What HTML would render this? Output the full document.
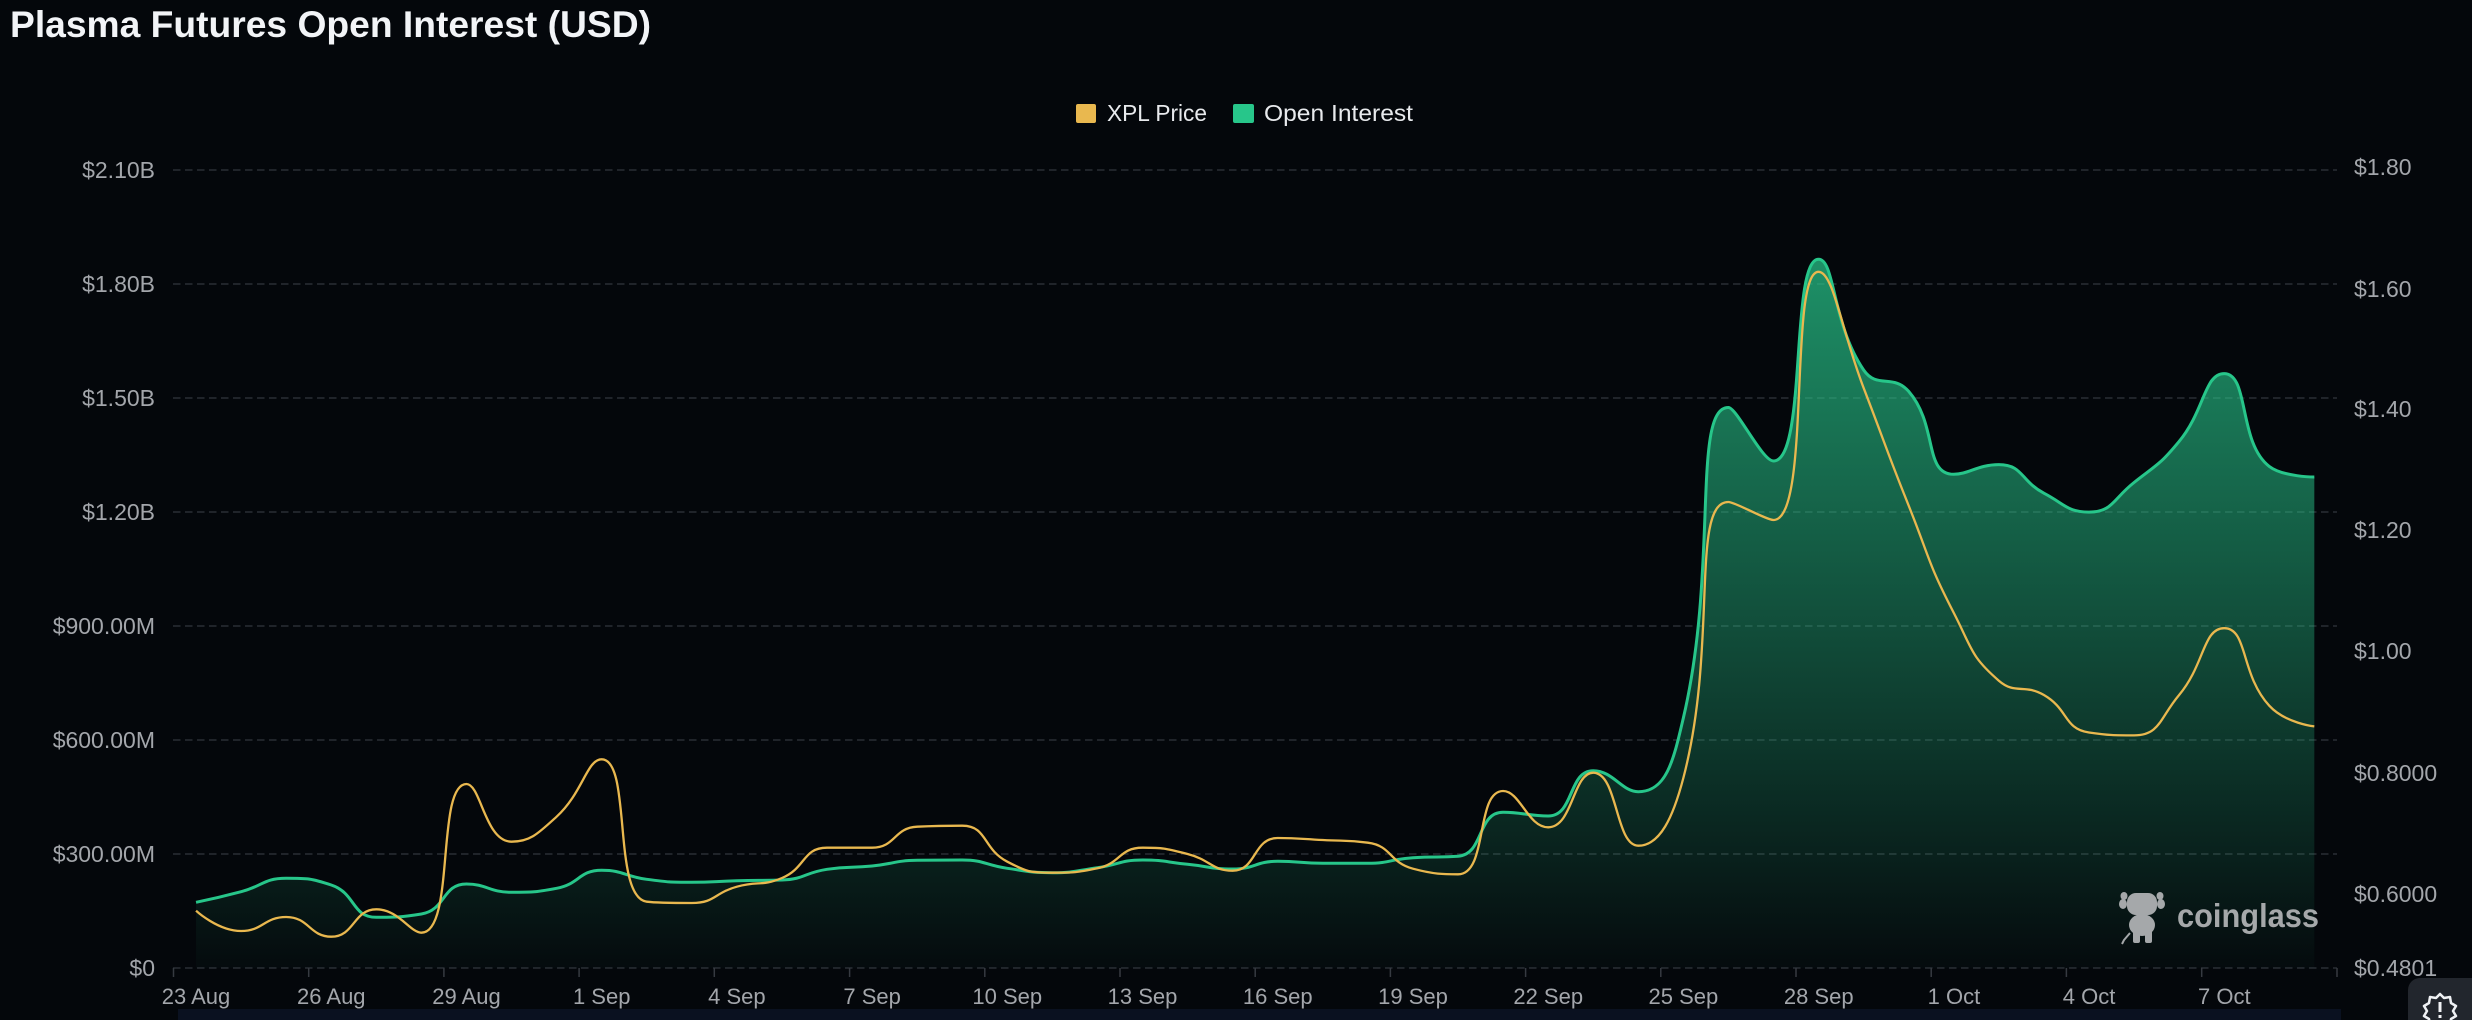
<!DOCTYPE html>
<html>
<head>
<meta charset="utf-8">
<style>
  html,body{margin:0;padding:0;background:#04070b;}
  body{width:2472px;height:1020px;overflow:hidden;}
  svg{display:block;}
  text{font-family:"Liberation Sans",Arial,sans-serif;}
</style>
</head>
<body>
<svg id="chart" width="2472" height="1020" viewBox="0 0 2472 1020" xmlns="http://www.w3.org/2000/svg">
  <defs>
    <linearGradient id="oiFill" gradientUnits="userSpaceOnUse" x1="0" y1="255" x2="0" y2="968">
      <stop offset="0" stop-color="rgb(40,200,140)" stop-opacity="0.72"/>
      <stop offset="0.5" stop-color="rgb(40,200,140)" stop-opacity="0.38"/>
      <stop offset="1" stop-color="rgb(40,200,140)" stop-opacity="0.02"/>
    </linearGradient>
  </defs>
  <rect x="0" y="0" width="2472" height="1020" fill="#04070b"/>

  <!-- Title -->
  <text x="10" y="37" font-size="37" font-weight="bold" fill="#f2f4f7" textLength="641" lengthAdjust="spacingAndGlyphs">Plasma Futures Open Interest (USD)</text>

  <!-- Legend -->
  <rect x="1076" y="104" width="20" height="19" rx="2" fill="#e9b84f"/>
  <text x="1107" y="121" font-size="23" fill="#e8eaed" textLength="100" lengthAdjust="spacingAndGlyphs">XPL Price</text>
  <rect x="1233" y="104" width="21" height="19" rx="2" fill="#27c68a"/>
  <text x="1264" y="121" font-size="23" fill="#e8eaed" textLength="149" lengthAdjust="spacingAndGlyphs">Open Interest</text>

  <!-- Grid lines -->
  <g stroke="#2a2e35" stroke-width="1.5" stroke-dasharray="7.5 4.5">
    <line x1="173" y1="170" x2="2337" y2="170"/>
    <line x1="173" y1="284" x2="2337" y2="284"/>
    <line x1="173" y1="398" x2="2337" y2="398"/>
    <line x1="173" y1="512" x2="2337" y2="512"/>
    <line x1="173" y1="626" x2="2337" y2="626"/>
    <line x1="173" y1="740" x2="2337" y2="740"/>
    <line x1="173" y1="854" x2="2337" y2="854"/>
    <line x1="173" y1="968" x2="2337" y2="968"/>
  </g>

  <!-- x ticks -->
  <path stroke="#363a41" stroke-width="1.5" fill="none" d="M173.5,968V977M308.7,968V977M443.9,968V977M579.1,968V977M714.3,968V977M849.6,968V977M984.8,968V977M1120,968V977M1255.2,968V977M1390.4,968V977M1525.6,968V977M1660.8,968V977M1796,968V977M1931.2,968V977M2066.4,968V977M2201.7,968V977M2337,968V977"/>

  <!-- Left axis labels -->
  <g font-size="23" fill="#a3a6ab" text-anchor="end">
    <text x="155" y="178">$2.10B</text>
    <text x="155" y="292">$1.80B</text>
    <text x="155" y="406">$1.50B</text>
    <text x="155" y="520">$1.20B</text>
    <text x="155" y="634">$900.00M</text>
    <text x="155" y="748">$600.00M</text>
    <text x="155" y="862">$300.00M</text>
    <text x="155" y="976">$0</text>
  </g>

  <!-- Right axis labels -->
  <g font-size="23" fill="#a3a6ab">
    <text x="2354" y="175">$1.80</text>
    <text x="2354" y="297">$1.60</text>
    <text x="2354" y="417">$1.40</text>
    <text x="2354" y="538">$1.20</text>
    <text x="2354" y="659">$1.00</text>
    <text x="2354" y="781">$0.8000</text>
    <text x="2354" y="902">$0.6000</text>
    <text x="2354" y="976">$0.4801</text>
  </g>

  <!-- X axis labels -->
  <g font-size="22" fill="#a3a6ab" text-anchor="middle">
    <text x="196" y="1004">23 Aug</text>
    <text x="331.3" y="1004">26 Aug</text>
    <text x="466.5" y="1004">29 Aug</text>
    <text x="601.7" y="1004">1 Sep</text>
    <text x="736.9" y="1004">4 Sep</text>
    <text x="872.1" y="1004">7 Sep</text>
    <text x="1007.3" y="1004">10 Sep</text>
    <text x="1142.5" y="1004">13 Sep</text>
    <text x="1277.8" y="1004">16 Sep</text>
    <text x="1413" y="1004">19 Sep</text>
    <text x="1548.2" y="1004">22 Sep</text>
    <text x="1683.4" y="1004">25 Sep</text>
    <text x="1818.7" y="1004">28 Sep</text>
    <text x="1953.9" y="1004">1 Oct</text>
    <text x="2089.1" y="1004">4 Oct</text>
    <text x="2224.3" y="1004">7 Oct</text>
  </g>

  <!-- Series -->
  <path id="oiArea" fill="url(#oiFill)" stroke="none" d=""/>

  <!-- Watermark -->
  <g fill="#a5a8aa">
    <ellipse cx="2124" cy="896" rx="3.5" ry="4"/>
    <ellipse cx="2160" cy="896" rx="3.5" ry="4"/>
    <rect x="2127" y="893" width="30" height="22" rx="9"/>
    <ellipse cx="2123" cy="904" rx="4" ry="5"/>
    <ellipse cx="2161" cy="904" rx="4" ry="5"/>
    <ellipse cx="2142" cy="925" rx="13" ry="11"/>
    <rect x="2133" y="928" width="7" height="15" rx="2"/>
    <rect x="2145" y="928" width="7" height="15" rx="2"/>
    <path d="M2130,933 L2124,940 L2122,944" stroke="#a5a8aa" stroke-width="2" fill="none"/>
    <text x="2177" y="927" font-size="33" font-weight="bold" textLength="142" lengthAdjust="spacingAndGlyphs">coinglass</text>
  </g>
  <path id="oiLine" fill="none" stroke="#27c68a" stroke-width="3" stroke-linejoin="round" d=""/>
  <path id="prLine" fill="none" stroke="#e9b84f" stroke-width="2.3" stroke-linejoin="round" d=""/>

  <!-- bottom band -->
  <rect x="178" y="1009" width="2163" height="11" fill="#0a1120"/>

  <!-- bottom-right icon -->
  <rect x="2408" y="978" width="80" height="60" rx="12" fill="#22262d"/>
  <polygon points="2440,994 2444,998 2450,997 2451,1003 2456,1006 2453,1011 2456,1016 2451,1019 2450,1025 2444,1024 2440,1028 2436,1024 2430,1025 2429,1019 2424,1016 2427,1011 2424,1006 2429,1003 2430,997 2436,998" fill="none" stroke="#f0f2f5" stroke-width="2.5" stroke-linejoin="round"/>
  <rect x="2438.5" y="1002" width="3" height="10" fill="#f0f2f5"/>
  <rect x="2438.5" y="1015" width="3" height="3" fill="#f0f2f5"/>
</svg>
<script>
(function(){
  var L=173.5, W=45.07, BASE=968;
  var oi=[902.3,891.7,878.3,885,917.3,914,884,892.3,888.3,870.3,879.3,882.3,
          880.7,880,869.3,866,860.3,860,868.3,872.7,867.7,860,864.3,869,
          861.3,863.3,863.3,857.7,856.3,812.3,816,770.7,791.7,718,407.5,461,
          259.3,370,391.4,474.3,464.6,493.2,512.1,482.5,441.4,373.6,466.4,477];
  var pr=[910.7,931,917,936.7,909.3,932.7,784,841.7,816.7,759.3,901.7,903,
          886.7,878,847.7,847.7,826.7,825.7,861.7,872.7,868.3,847.7,854,870.7,
          838,840,842.7,868.7,874.3,791,827.3,772.7,845.7,778,502,520,
          271.8,387.9,505.7,612.9,680.7,695,732.5,735.4,695,628.2,705.7,726.4];
  function pts(a){var r=[];for(var i=0;i<a.length;i++){r.push([L+W*(i+0.5),a[i]]);}return r;}
  function f(v){return Math.round(v*100)/100;}
  function sp(P,s){
    var d='M'+f(P[0][0])+','+f(P[0][1]);
    var cpx0=P[0][0],cpy0=P[0][1],prevX=P[0][0],prevY=P[0][1];
    for(var i=1;i<P.length;i++){
      var x=P[i][0],y=P[i][1],cpx1,cpy1,ncx=x,ncy=y;
      if(i===P.length-1){cpx1=x;cpy1=y;}
      else{
        var nx=P[i+1][0],ny=P[i+1][1];
        var vx=nx-prevX,vy=ny-prevY;
        var l0=Math.sqrt((x-prevX)*(x-prevX)+(y-prevY)*(y-prevY));
        var l1=Math.sqrt((nx-x)*(nx-x)+(ny-y)*(ny-y));
        var r=l1/(l0+l1);
        ncx=x+vx*s*r; ncy=y+vy*s*r;
        ncx=Math.min(ncx,Math.max(nx,x)); ncy=Math.min(ncy,Math.max(ny,y));
        ncx=Math.max(ncx,Math.min(nx,x)); ncy=Math.max(ncy,Math.min(ny,y));
        vx=ncx-x; vy=ncy-y;
        cpx1=x-vx*l0/l1; cpy1=y-vy*l0/l1;
        cpx1=Math.min(cpx1,Math.max(prevX,x)); cpy1=Math.min(cpy1,Math.max(prevY,y));
        cpx1=Math.max(cpx1,Math.min(prevX,x)); cpy1=Math.max(cpy1,Math.min(prevY,y));
        vx=x-cpx1; vy=y-cpy1;
        ncx=x+vx*l1/l0; ncy=y+vy*l1/l0;
      }
      d+='C'+f(cpx0)+','+f(cpy0)+' '+f(cpx1)+','+f(cpy1)+' '+f(x)+','+f(y);
      cpx0=ncx;cpy0=ncy;prevX=x;prevY=y;
    }
    return d;
  }
  var po=pts(oi), pp=pts(pr);
  var dOi=sp(po,0.5), dPr=sp(pp,0.5);
  document.getElementById('oiLine').setAttribute('d',dOi);
  document.getElementById('prLine').setAttribute('d',dPr);
  document.getElementById('oiArea').setAttribute('d',dOi+'L'+f(po[po.length-1][0])+','+BASE+'L'+f(po[0][0])+','+BASE+'Z');
})();
</script>
</body>
</html>
